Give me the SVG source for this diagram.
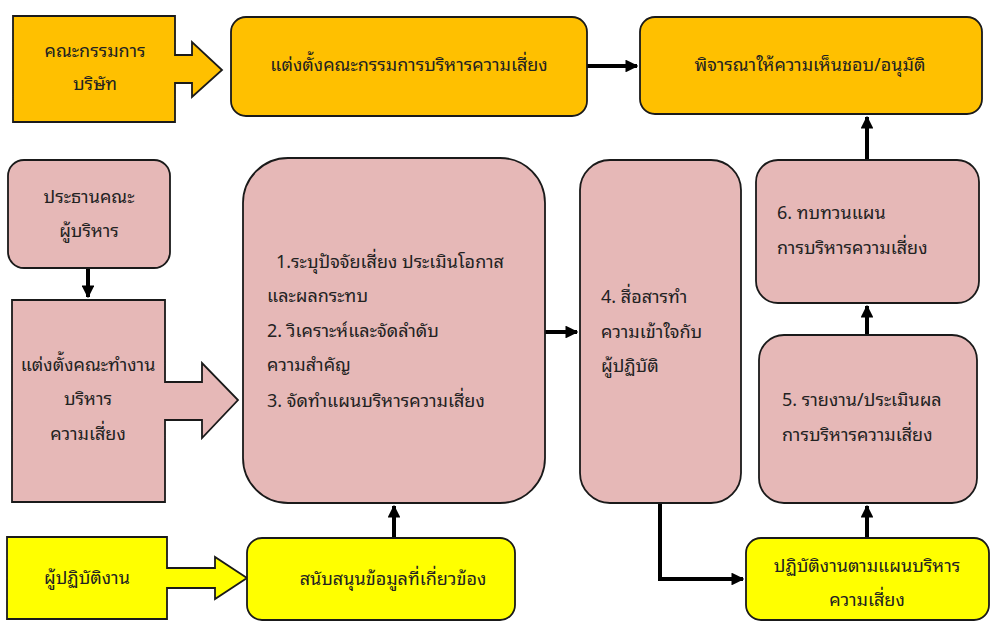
<svg xmlns="http://www.w3.org/2000/svg" width="1000" height="635" viewBox="0 0 1000 635">
<style>
.o{fill:#FFC000;stroke:#1a1a1a;stroke-width:1.8}
.p{fill:#E6B8B7;stroke:#1a1a1a;stroke-width:1.8}
.y{fill:#FFFF00;stroke:#1a1a1a;stroke-width:1.8}
text{font-family:"Noto Sans Thai Looped","Loma","Garuda","Tahoma","Noto Sans Thai","DejaVu Sans","Noto Sans",sans-serif;font-size:18px;fill:#222}
.c{text-anchor:middle}
.ln{fill:none;stroke:#000;stroke-width:4}
</style>
<defs>
<marker id="ah" viewBox="0 0 10 10" refX="9" refY="5" markerWidth="3.2" markerHeight="3.2" orient="auto" markerUnits="strokeWidth">
<path d="M0,0 L10,5 L0,10 z" fill="#000"/>
</marker>
</defs>
<rect width="1000" height="635" fill="#fff"/>

<g id="connectors">
<line class="ln" x1="587" y1="66" x2="637" y2="66" marker-end="url(#ah)"/>
<line class="ln" x1="867" y1="160" x2="867" y2="117" marker-end="url(#ah)"/>
<line class="ln" x1="88" y1="268" x2="88" y2="297" marker-end="url(#ah)"/>
<line class="ln" x1="545" y1="332" x2="577" y2="332" marker-end="url(#ah)"/>
<line class="ln" x1="867" y1="335" x2="867" y2="306" marker-end="url(#ah)"/>
<line class="ln" x1="394" y1="538" x2="394" y2="506" marker-end="url(#ah)"/>
<line class="ln" x1="867" y1="538" x2="867" y2="506" marker-end="url(#ah)"/>
<polyline class="ln" points="660,503 660,579 743,579" marker-end="url(#ah)"/>
</g>

<g id="board">
<path class="o" d="M13,16 H175 V55 H192 V42 L222,70 L192,97 V83 H175 V122 H13 Z"/>
<text class="c" x="95" y="57">คณะกรรมการ</text>
<text class="c" x="95" y="90">บริษัท</text>
</g>

<g id="appoint-committee">
<rect class="o" x="231" y="17" width="356" height="99" rx="15"/>
<text class="c" x="409" y="71">แต่งตั้งคณะกรรมการบริหารความเสี่ยง</text>
</g>

<g id="approve">
<rect class="o" x="640" y="17" width="342" height="97" rx="15"/>
<text class="c" x="810" y="71">พิจารณาให้ความเห็นชอบ/อนุมัติ</text>
</g>

<g id="chairman">
<rect class="p" x="8" y="160" width="162" height="108" rx="16"/>
<text class="c" x="89" y="203">ประธานคณะ</text>
<text class="c" x="89" y="237">ผู้บริหาร</text>
</g>

<g id="working-group">
<path class="p" d="M12,300 H165 V382 H202 V363 L238,400 L202,438 V420 H165 V502 H12 Z"/>
<text class="c" x="88" y="371">แต่งตั้งคณะทำงาน</text>
<text class="c" x="88" y="405">บริหาร</text>
<text class="c" x="88" y="440">ความเสี่ยง</text>
</g>

<g id="step1-3">
<rect class="p" x="243" y="158" width="302" height="345" rx="45"/>
<text x="276" y="268">1.ระบุปัจจัยเสี่ยง ประเมินโอกาส</text>
<text x="267" y="302">และผลกระทบ</text>
<text x="267" y="337">2. วิเคราะห์และจัดลำดับ</text>
<text x="267" y="371">ความสำคัญ</text>
<text x="267" y="407">3. จัดทำแผนบริหารความเสี่ยง</text>
</g>

<g id="step4">
<rect class="p" x="580" y="160" width="161" height="343" rx="30"/>
<text x="601" y="303">4. สื่อสารทำ</text>
<text x="601" y="338">ความเข้าใจกับ</text>
<text x="601" y="372">ผู้ปฏิบัติ</text>
</g>

<g id="step6">
<rect class="p" x="756" y="160" width="223" height="143" rx="22"/>
<text x="777" y="219">6. ทบทวนแผน</text>
<text x="777" y="254">การบริหารความเสี่ยง</text>
</g>

<g id="step5">
<rect class="p" x="759" y="335" width="218" height="168" rx="25"/>
<text x="782" y="406">5. รายงาน/ประเมินผล</text>
<text x="782" y="441">การบริหารความเสี่ยง</text>
</g>

<g id="practitioner">
<path class="y" d="M7,537 H167 V568 H215 V557 L247,578 L215,599 V588 H167 V619 H7 Z"/>
<text class="c" x="87" y="584">ผู้ปฏิบัติงาน</text>
</g>

<g id="support-data">
<rect class="y" x="247" y="538" width="268" height="82" rx="15"/>
<text class="c" x="393" y="585">สนับสนุนข้อมูลที่เกี่ยวข้อง</text>
</g>

<g id="implement">
<rect class="y" x="746" y="538" width="243" height="82" rx="15"/>
<text class="c" x="867" y="572">ปฏิบัติงานตามแผนบริหาร</text>
<text class="c" x="867" y="606">ความเสี่ยง</text>
</g>
</svg>
